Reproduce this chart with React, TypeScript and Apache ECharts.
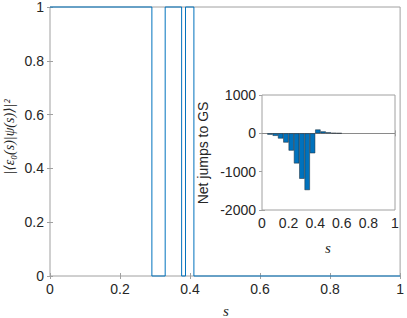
import React, { useEffect, useRef } from 'react';
import * as echarts from 'echarts';

// Main plot: overlap with ground state, value changes at these s positions
const switchS = [0, 0.291, 0.329, 0.376, 0.387, 0.411, 1];
const overlapVals = [1, 0, 1, 0, 1, 0, 0];
const mainTicks = ['0', '0.2', '0.4', '0.6', '0.8', '1'];

// Inset histogram: net jumps to GS per s-bin (bin width 0.04)
const binCenters = [0.06, 0.1, 0.14, 0.18, 0.22, 0.26, 0.3, 0.34, 0.38, 0.42, 0.46, 0.5, 0.54, 0.58];
const netJumps = [-35, -65, -135, -240, -450, -785, -1185, -1480, -520, 100, 50, 25, 8, 3];
const insetYTicks = ['-2000', '-1000', '0', '1000'];

const axisColor = '#a0a0a0';
const textColor = '#262626';
const sans = "'Liberation Sans', Arial, Helvetica, sans-serif";
const serif = "'Liberation Serif', 'DejaVu Serif', serif";

export default function App() {
  const ref = useRef<HTMLDivElement>(null);
  useEffect(() => {
    const chart = echarts.init(ref.current!, null, { renderer: 'svg' });
    const label = { color: textColor, fontSize: 14, fontFamily: sans };
    const tick = { show: true, inside: true, length: 3, lineStyle: { color: axisColor, width: 1 } };
    const xAx = (grid: number, pos: string, showLabel: boolean) => ({
      gridIndex: grid, type: 'value', min: 0, max: 1, interval: 0.2, position: pos,
      axisLine: { show: false }, axisTick: tick, splitLine: { show: false },
      axisLabel: showLabel ? { ...label, margin: 6, formatter: (v: number) => mainTicks[Math.round(v * 5)] ?? String(v) } : { show: false },
    });
    const yMain = (pos: string, showLabel: boolean) => ({
      gridIndex: 0, type: 'value', min: 0, max: 1, interval: 0.2, position: pos,
      axisLine: { show: false }, axisTick: tick, splitLine: { show: false },
      axisLabel: showLabel ? { ...label, margin: 6, formatter: (v: number) => mainTicks[Math.round(v * 5)] ?? String(v) } : { show: false },
    });
    const yInset = (pos: string, showLabel: boolean) => ({
      gridIndex: 1, type: 'value', min: -2000, max: 1000, interval: 1000, position: pos,
      axisLine: { show: false }, axisTick: tick, splitLine: { show: false },
      axisLabel: showLabel ? { ...label, margin: 6, formatter: (v: number) => insetYTicks[Math.round((v + 2000) / 1000)] ?? String(v) } : { show: false },
    });
    const option: any = {
      animation: false,
      backgroundColor: '#fff',
      grid: [
        { left: 50, top: 6, width: 352, height: 270, show: true, borderColor: axisColor, borderWidth: 1, backgroundColor: '#fff' },
        { left: 262, top: 95, width: 133, height: 115, show: true, borderColor: axisColor, borderWidth: 1, backgroundColor: '#fff', z: 5 },
      ],
      xAxis: [xAx(0, 'bottom', true), xAx(0, 'top', false), xAx(1, 'bottom', true), xAx(1, 'top', false)],
      yAxis: [yMain('left', true), yMain('right', false), yInset('left', true), yInset('right', false)],
      series: [
        {
          type: 'line', xAxisIndex: 0, yAxisIndex: 0, step: 'end', symbol: 'none', clip: false,
          data: switchS.map((s, i) => [s, overlapVals[i]]),
          lineStyle: { color: '#0072BD', width: 1 },
        },
        {
          type: 'bar', xAxisIndex: 2, yAxisIndex: 2, barWidth: 5.33, z: 6,
          data: binCenters.map((s, i) => [s, netJumps[i]]),
          itemStyle: { color: '#0072BD', borderColor: '#1c2833', borderWidth: 0.5 },
          markLine: {
            silent: true, symbol: ['none', 'none'], label: { show: false },
            lineStyle: { color: '#8a8a8a', width: 1, type: 'solid' },
            data: [{ yAxis: 0 }],
          },
        },
      ],
      graphic: [
        { type: 'text', x: 226, y: 311, style: { text: 's', font: `italic 15px ${serif}`, fill: textColor, align: 'center', verticalAlign: 'middle' } },
        { type: 'text', x: 328, y: 248, style: { text: 's', font: `italic 15px ${serif}`, fill: textColor, align: 'center', verticalAlign: 'middle' } },
        { type: 'text', x: 9, y: 137, rotation: Math.PI / 2, style: { text: '|⟨ε₀(s)|ψ(s)⟩|²', font: `italic 14px ${serif}`, fill: textColor, align: 'center', verticalAlign: 'middle' } },
        { type: 'text', x: 203, y: 153, rotation: Math.PI / 2, z: 10, style: { text: 'Net jumps to GS', font: `14px ${sans}`, fill: textColor, align: 'center', verticalAlign: 'middle' } },
      ],
    };
    chart.setOption(option);
    return () => chart.dispose();
  }, []);
  return <div ref={ref} style={{ position: 'fixed', left: 0, top: 0, width: 407, height: 318, background: '#fff' }} />;
}
